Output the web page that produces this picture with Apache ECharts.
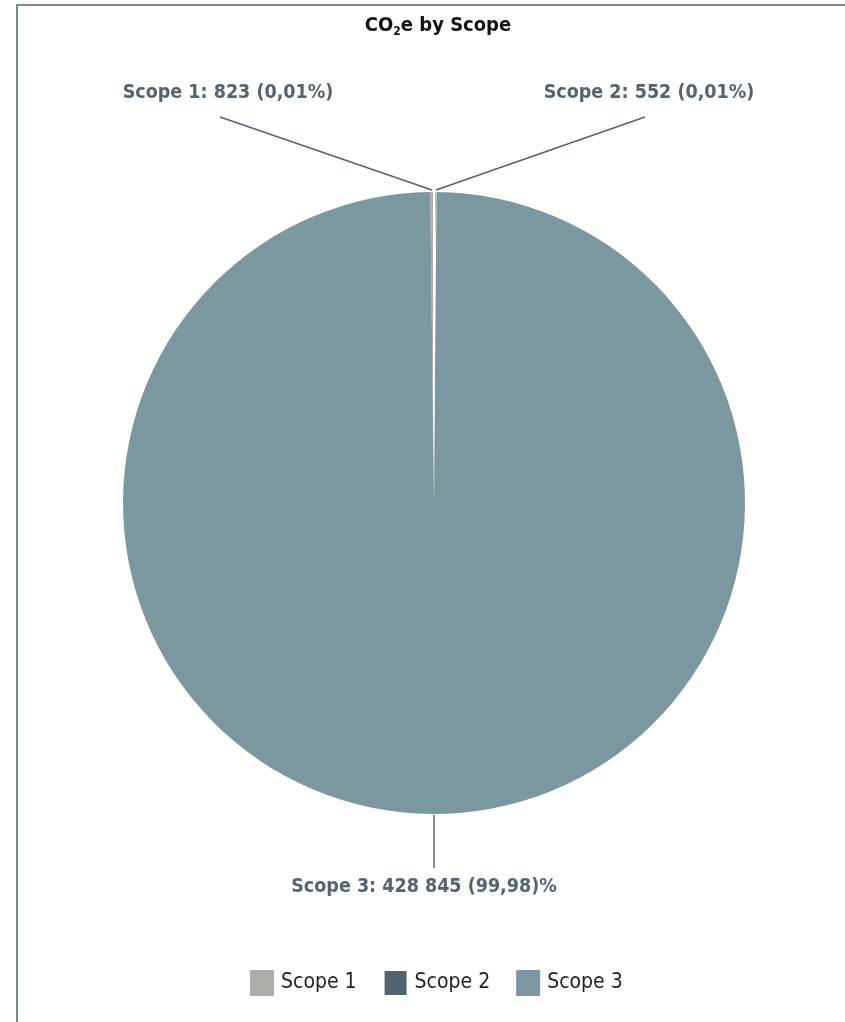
<!DOCTYPE html>
<html>
<head>
<meta charset="utf-8">
<script src="https://cdn.jsdelivr.net/npm/echarts@6/dist/echarts.min.js"></script>
<style>
html,body{margin:0;padding:0;background:#fff;}
#chart{width:845px;height:1022px;}
</style>
</head>
<body>
<div id="chart"></div>
<script>
const categories = ["Scope 1", "Scope 2", "Scope 3"];
const values = [823, 552, 428845];
const labelTexts = ["Scope 1: 823 (0,01%)", "Scope 2: 552 (0,01%)", "Scope 3: 428 845 (99,98)%"];
const colors = ["#b0aca7", "#52646e", "#7b98a0"];

const labelFont = "'DejaVu Sans Condensed', 'Liberation Sans Narrow', sans-serif";
const chart = echarts.init(document.getElementById('chart'), null, {renderer: 'canvas'});

// label anchor placement (layout only)
const labelPos = [
  {x: 228, y: 93, align: 'center', line: [[220, 117], [432, 190]]},
  {x: 649, y: 93, align: 'center', line: [[645, 117], [436, 190]]},
  {x: 424, y: 887, align: 'center', line: [[434, 815], [434, 868]]}
];

chart.setOption({
  animation: false,
  title: {
    text: 'CO{sub|2}e by Scope',
    left: 433, top: 9, textAlign: 'center',
    textStyle: {
      fontFamily: labelFont, fontWeight: 'bold', fontSize: 20, color: '#111',
      rich: {sub: {fontFamily: labelFont, fontWeight: 'bold', fontSize: 12, color: '#111', verticalAlign: 'bottom', padding: [12, 0, 0, 0]}}
    }
  },
  legend: {
    bottom: 20, left: 245,
    itemWidth: 24, itemHeight: 26, itemGap: 26,
    icon: 'rect',
    textStyle: {fontFamily: labelFont, fontSize: 21, color: '#222', padding: [0, 0, 0, 2]},
    data: categories
  },
  graphic: [
    {type: 'line', shape: {x1: 16, y1: 5, x2: 845, y2: 5}, style: {stroke: '#7a8d96', lineWidth: 2}},
    {type: 'line', shape: {x1: 17, y1: 5, x2: 17, y2: 1022}, style: {stroke: '#7a8d96', lineWidth: 2}}
  ],
  series: [{
    type: 'pie',
    center: [434, 503],
    radius: [0, 311],
    startAngle: 90 + (values[0] / (values[0] + values[1] + values[2])) * 360,
    clockwise: true,
    avoidLabelOverlap: false,
    minShowLabelAngle: 0,
    label: {
      show: true, position: 'outside',
      formatter: p => labelTexts[p.dataIndex],
      fontFamily: labelFont, fontWeight: 'bold', fontSize: 19.5, color: '#52646e'
    },
    labelLine: {show: true, lineStyle: {color: '#52646e', width: 1.5}},
    labelLayout: function (params) {
      const lp = labelPos[params.dataIndex];
      return {
        x: lp.x, y: lp.y, align: lp.align, verticalAlign: 'middle',
        labelLinePoints: lp.line
      };
    },
    data: categories.map((c, i) => ({
      name: c, value: values[i],
      itemStyle: i === 1
        ? {color: colors[i], borderColor: '#fff', borderWidth: 2}
        : {color: colors[i], borderWidth: 0}
    }))
  }]
});
</script>
</body>
</html>
